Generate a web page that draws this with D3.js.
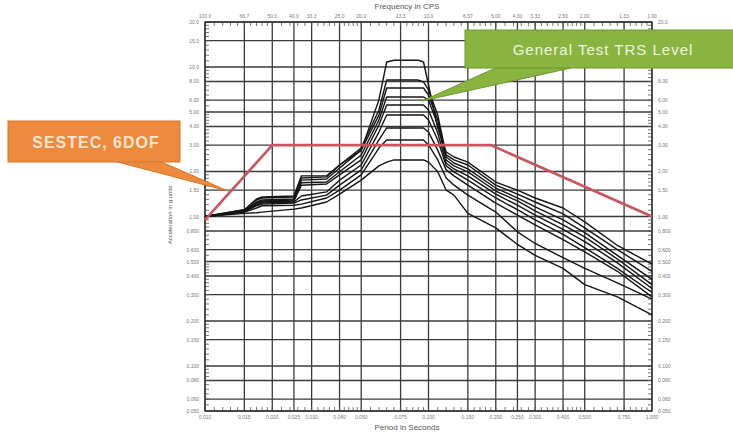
<!DOCTYPE html>
<html>
<head>
<meta charset="utf-8">
<script src="https://cdn.jsdelivr.net/npm/d3@7"></script>
<style>
  body { margin: 0; background: #fff; }
  svg { display: block; font-family: "Liberation Sans", Arial, sans-serif; }
</style>
</head>
<body>
<svg id="chart" width="733" height="433"></svg>
<script>
// periods (s) where the response spectra were read
const periods = [0.01, 0.015, 0.017, 0.018, 0.025, 0.027, 0.035, 0.04, 0.05, 0.06, 0.065, 0.07, 0.08, 0.09,
  0.095, 0.1, 0.11, 0.12, 0.13, 0.15, 0.2, 0.25, 0.3, 0.4, 0.5, 0.7, 1.0];

// acceleration (g) of each test response spectrum
const rrs0 = [1.00, 1.05, 1.06, 1.07, 1.12, 1.14, 1.25, 1.41, 1.75, 2.18, 2.31, 2.39, 2.39, 2.39, 2.39, 2.31, 1.99, 1.50, 1.39, 1.05, 0.84, 0.65, 0.55, 0.45, 0.35, 0.29, 0.22];
const rrs1 = [1.00, 1.07, 1.14, 1.18, 1.19, 1.21, 1.33, 1.50, 1.90, 2.87, 3.25, 3.25, 3.25, 3.25, 3.25, 3.01, 2.39, 1.81, 1.62, 1.39, 1.07, 0.79, 0.66, 0.53, 0.45, 0.36, 0.28];
const rrs2 = [1.00, 1.07, 1.18, 1.21, 1.23, 1.29, 1.39, 1.62, 2.05, 3.25, 3.91, 3.91, 3.91, 3.91, 3.91, 3.67, 2.78, 2.05, 1.87, 1.62, 1.23, 1.02, 0.88, 0.70, 0.58, 0.43, 0.29];
const rrs3 = [1.00, 1.09, 1.19, 1.23, 1.25, 1.37, 1.46, 1.75, 2.21, 3.67, 4.77, 4.77, 4.77, 4.77, 4.77, 4.42, 3.25, 2.18, 1.99, 1.75, 1.33, 1.11, 0.95, 0.76, 0.62, 0.45, 0.31];
const rrs4 = [1.00, 1.09, 1.21, 1.25, 1.27, 1.62, 1.65, 1.90, 2.39, 4.09, 5.57, 5.57, 5.57, 5.57, 5.57, 5.16, 3.62, 2.28, 2.08, 1.87, 1.41, 1.19, 1.02, 0.82, 0.68, 0.49, 0.33];
const rrs5 = [1.00, 1.09, 1.23, 1.27, 1.29, 1.68, 1.70, 1.99, 2.58, 4.42, 6.30, 6.30, 6.30, 6.30, 6.30, 6.02, 4.09, 2.39, 2.18, 1.99, 1.48, 1.27, 1.09, 0.88, 0.73, 0.52, 0.35];
const rrs6 = [1.00, 1.09, 1.25, 1.29, 1.31, 1.75, 1.78, 2.11, 2.78, 4.77, 7.24, 7.24, 7.24, 7.24, 7.24, 6.50, 4.42, 2.50, 2.28, 2.08, 1.55, 1.33, 1.16, 0.95, 0.78, 0.55, 0.38];
const rrs7 = [1.00, 1.11, 1.29, 1.33, 1.35, 1.81, 1.84, 2.21, 2.87, 5.16, 8.18, 8.18, 8.18, 8.18, 7.94, 7.02, 4.77, 2.58, 2.39, 2.21, 1.62, 1.41, 1.25, 1.04, 0.84, 0.60, 0.43];
const rrs8 = [1.00, 1.11, 1.31, 1.35, 1.37, 1.87, 1.87, 2.21, 2.78, 6.02, 10.8, 11.1, 11.1, 11.1, 10.8, 7.58, 3.91, 2.70, 2.50, 2.31, 1.70, 1.50, 1.33, 1.14, 0.92, 0.64, 0.48];

// required (general test TRS) envelope
const trsPeriods = [0.01, 0.02, 0.19, 1.0];
const trsLevel = [0.95, 3.0, 3.0, 1.0];

// grid lines / tick labels
const periodTicks = [0.01, 0.015, 0.02, 0.025, 0.03, 0.04, 0.05, 0.075, 0.1, 0.15, 0.2, 0.25, 0.3, 0.4, 0.5, 0.75, 1.0];
const accelTicks = [0.05, 0.06, 0.08, 0.1, 0.15, 0.2, 0.3, 0.4, 0.5, 0.6, 0.8, 1, 1.5, 2, 3, 4, 5, 6, 8, 10, 15, 20];

const allSeries = [rrs0, rrs1, rrs2, rrs3, rrs4, rrs5, rrs6, rrs7, rrs8];

const svg = d3.select('#chart');
const plotLeft = 205, plotRight = 652, plotTop = 22, plotBottom = 411;

const x = d3.scaleLog().domain([0.01, 1.0]).range([plotLeft, plotRight]);
const y = d3.scaleLog().domain([0.05, 20]).range([plotBottom, plotTop]);

// minor tick positions: fine inside each decade
function minorValues(lo, hi) {
  const out = [];
  const start = Math.pow(10, Math.floor(Math.log10(lo)));
  for (let dec = start; dec < hi * 0.999; dec *= 10) {
    for (let m = 1.0; m < 1.99; m += 0.1) out.push(dec * m);
    for (let m = 2.0; m < 4.99; m += 0.2) out.push(dec * m);
    for (let m = 5.0; m < 9.99; m += 0.5) out.push(dec * m);
  }
  return out.filter(v => v >= lo && v <= hi);
}

const grid = svg.append('g');

grid.selectAll('line.vx')
  .data(periodTicks)
  .enter().append('line')
  .attr('x1', d => x(d)).attr('x2', d => x(d))
  .attr('y1', plotTop).attr('y2', plotBottom)
  .attr('stroke', '#3a3a3a').attr('stroke-width', 1.3);

grid.selectAll('line.hy')
  .data(accelTicks)
  .enter().append('line')
  .attr('x1', plotLeft).attr('x2', plotRight)
  .attr('y1', d => y(d)).attr('y2', d => y(d))
  .attr('stroke', '#3a3a3a').attr('stroke-width', 1.3);

// minor ticks on all four sides
const mx = minorValues(0.01, 1.0);
const my = minorValues(0.05, 20);
grid.selectAll('line.mxb').data(mx).enter().append('line')
  .attr('x1', d => x(d)).attr('x2', d => x(d))
  .attr('y1', plotBottom).attr('y2', plotBottom - 4)
  .attr('stroke', '#555').attr('stroke-width', 0.8);
grid.selectAll('line.mxt').data(mx).enter().append('line')
  .attr('x1', d => x(d)).attr('x2', d => x(d))
  .attr('y1', plotTop).attr('y2', plotTop + 4)
  .attr('stroke', '#555').attr('stroke-width', 0.8);
grid.selectAll('line.myl').data(my).enter().append('line')
  .attr('x1', plotLeft).attr('x2', plotLeft + 4)
  .attr('y1', d => y(d)).attr('y2', d => y(d))
  .attr('stroke', '#555').attr('stroke-width', 0.8);
grid.selectAll('line.myr').data(my).enter().append('line')
  .attr('x1', plotRight).attr('x2', plotRight - 4)
  .attr('y1', d => y(d)).attr('y2', d => y(d))
  .attr('stroke', '#555').attr('stroke-width', 0.8);

grid.append('rect')
  .attr('x', plotLeft).attr('y', plotTop)
  .attr('width', plotRight - plotLeft).attr('height', plotBottom - plotTop)
  .attr('fill', 'none').attr('stroke', '#333').attr('stroke-width', 1.3);

// tick labels
const fmtP = d3.format('.3f');
const fmtF = d => d >= 10 ? d.toFixed(1) : d.toFixed(2);
const fmtA = d => d >= 10 ? d.toFixed(1) : (d >= 1 ? d.toFixed(2) : d.toFixed(3));

const labels = svg.append('g').attr('fill', '#777').attr('font-size', 5);
labels.selectAll('text.pb').data(periodTicks).enter().append('text')
  .attr('x', d => x(d)).attr('y', 419).attr('text-anchor', 'middle').text(fmtP);
labels.selectAll('text.ft').data(periodTicks).enter().append('text')
  .attr('x', d => x(d)).attr('y', 18).attr('text-anchor', 'middle').text(d => fmtF(1 / d));
labels.selectAll('text.al').data(accelTicks).enter().append('text')
  .attr('x', 199).attr('y', d => y(d) + 2).attr('text-anchor', 'end').text(fmtA);
// right-hand labels hidden behind the green callout are not drawn
labels.selectAll('text.ar').data(accelTicks.filter(d => y(d) < 28 || y(d) > 72)).enter().append('text')
  .attr('x', 658).attr('y', d => y(d) + 2).attr('text-anchor', 'start').text(fmtA);

svg.append('text').attr('x', 407).attr('y', 9).attr('text-anchor', 'middle')
  .attr('font-size', 8).attr('fill', '#555').text('Frequency in CPS');
svg.append('text').attr('x', 407).attr('y', 430).attr('text-anchor', 'middle')
  .attr('font-size', 8).attr('fill', '#555').text('Period in Seconds');
svg.append('text').attr('transform', 'translate(172,215) rotate(-90)').attr('text-anchor', 'middle')
  .attr('font-size', 6).attr('fill', '#555').text('Acceleration in g units');

// response spectra
const line = d3.line()
  .x(d => x(d[0]))
  .y(d => y(d[1]));

svg.append('g')
  .selectAll('path')
  .data(allSeries)
  .enter().append('path')
  .attr('d', s => line(periods.map((p, i) => [p, s[i]])))
  .attr('fill', 'none')
  .attr('stroke', '#151515')
  .attr('stroke-width', 1.4)
  .attr('stroke-linejoin', 'round');

svg.append('path')
  .attr('d', line(trsPeriods.map((p, i) => [p, trsLevel[i]])))
  .attr('fill', 'none')
  .attr('stroke', '#c95560')
  .attr('stroke-width', 2.6);

// callouts
const orange = svg.append('g');
orange.append('path')
  .attr('d', 'M110,160 L157,160 L228,191 Z')
  .attr('fill', '#ee8a3e').attr('stroke', '#d8742a').attr('stroke-width', 1);
orange.append('rect')
  .attr('x', 8).attr('y', 121).attr('width', 172).attr('height', 41)
  .attr('fill', '#ee8a3e').attr('stroke', '#d8742a').attr('stroke-width', 1);
orange.append('text')
  .attr('x', 96).attr('y', 148).attr('text-anchor', 'middle')
  .attr('font-size', 16).attr('font-weight', 'bold').attr('letter-spacing', 1)
  .attr('fill', '#fbe4d0').text('SESTEC, 6DOF');

const green = svg.append('g');
green.append('path')
  .attr('d', 'M500,66 L580,66 L422,101 Z')
  .attr('fill', '#8ab440').attr('stroke', '#6f9a2c').attr('stroke-width', 1);
green.append('rect')
  .attr('x', 465).attr('y', 30).attr('width', 270).attr('height', 38)
  .attr('fill', '#8ab440').attr('stroke', '#6f9a2c').attr('stroke-width', 1);
green.append('text')
  .attr('x', 603).attr('y', 55).attr('text-anchor', 'middle')
  .attr('font-size', 15).attr('letter-spacing', 1)
  .attr('fill', '#eef5e0').text('General Test TRS Level');
</script>
</body>
</html>
